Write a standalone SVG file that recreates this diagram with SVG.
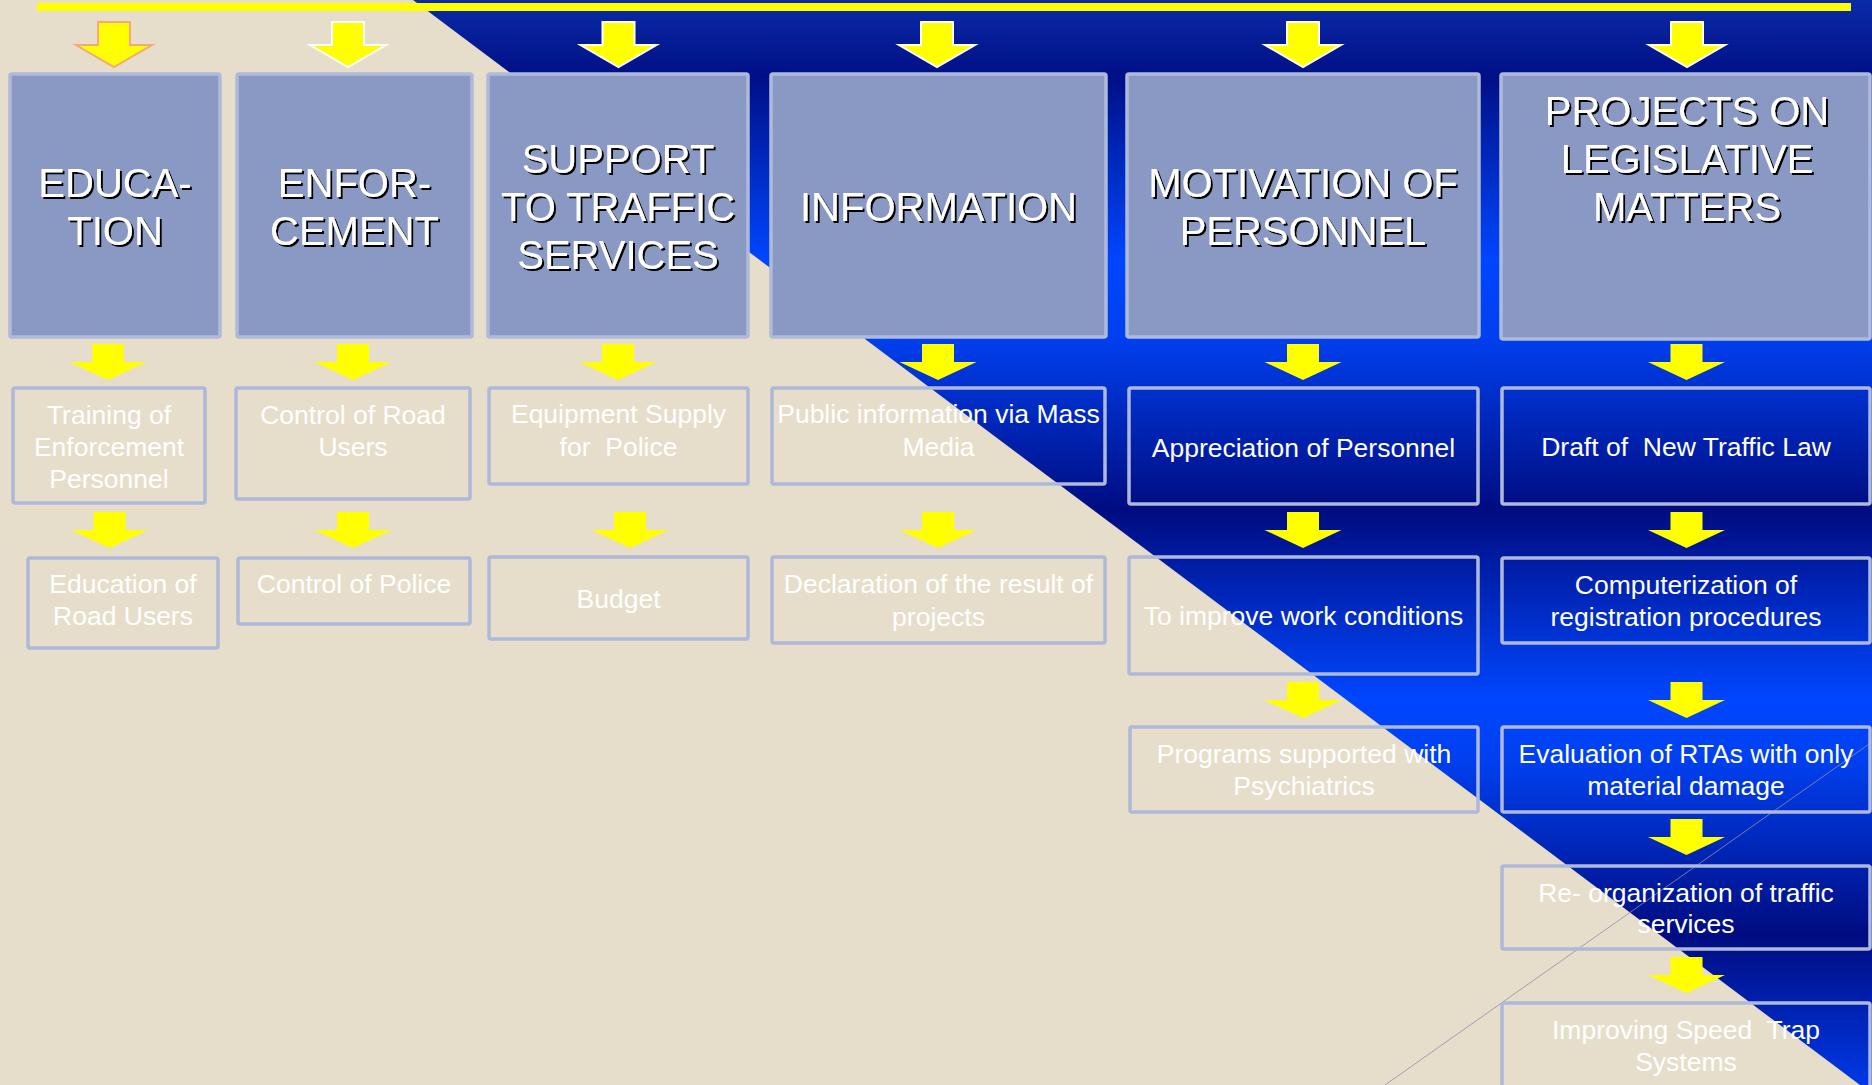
<svg xmlns="http://www.w3.org/2000/svg" xmlns:xlink="http://www.w3.org/1999/xlink" width="1872" height="1085" viewBox="0 0 1872 1085">
<defs>
<style>
.hdr{fill:#8A99C3;stroke:#AFBADA;stroke-width:3.5}
.box{fill:none;stroke:#AEB8D9;stroke-width:3.5}
.ht{font-family:"Liberation Sans",Arial,sans-serif;font-size:40px;fill:#FFFFFF;text-anchor:middle;filter:url(#sh)}
.bt{font-family:"Liberation Sans",Arial,sans-serif;font-size:26.5px;fill:#FFFFFF;text-anchor:middle}
.arr{fill:#FFFF00}
.tarr{fill:#FFFF00;stroke:#FFFFFF;stroke-width:2;stroke-linejoin:miter}
</style>
<linearGradient id="bg" gradientUnits="userSpaceOnUse" x1="0" y1="0" x2="0" y2="1085">
<stop offset="0" stop-color="#0A2BA8"/>
<stop offset="0.07" stop-color="#000F86"/>
<stop offset="0.24" stop-color="#0046FF"/>
<stop offset="0.31" stop-color="#0040F0"/>
<stop offset="0.47" stop-color="#000C80"/>
<stop offset="0.645" stop-color="#0046FF"/>
<stop offset="0.70" stop-color="#0040F0"/>
<stop offset="0.862" stop-color="#000C80"/>
<stop offset="1" stop-color="#0038E6"/>
</linearGradient>
<filter id="sh" x="-10%" y="-20%" width="120%" height="140%">
<feDropShadow dx="2" dy="2" stdDeviation="0" flood-color="#000000" flood-opacity="1"/>
</filter>
<path id="a" d="M-16,0 H16 V18 H38.5 L0,36 L-38.5,18 H-16 Z"/>
<path id="ta" d="M-16,0 H16 V23 H38 L0,45 L-38,23 H-16 Z"/>
</defs>

<g id="background">
<rect x="0" y="0" width="1872" height="1085" fill="#E6DECA"/>
<polygon points="413,0 1872,0 1872,1085 1860,1085" fill="url(#bg)"/>
<line x1="1385" y1="1085" x2="1872" y2="742" stroke="#8E90A8" stroke-width="1" stroke-opacity="0.8"/>
<rect x="37" y="3" width="1814" height="8" fill="#FFFF00"/>
</g>

<g id="connectors">
<use xlink:href="#ta" x="114" y="22" class="tarr" style="stroke:#F6A878"/>
<use xlink:href="#ta" x="348" y="22" class="tarr"/>
<use xlink:href="#ta" x="618.5" y="22" class="tarr"/>
<use xlink:href="#ta" x="937" y="22" class="tarr"/>
<use xlink:href="#ta" x="1303" y="22" class="tarr"/>
<use xlink:href="#ta" x="1687" y="22" class="tarr"/>

<use xlink:href="#a" x="108" y="344" class="arr"/>
<use xlink:href="#a" x="353" y="344" class="arr"/>
<use xlink:href="#a" x="618" y="344" class="arr"/>
<use xlink:href="#a" x="938" y="344" class="arr"/>
<use xlink:href="#a" x="1303" y="344" class="arr"/>
<use xlink:href="#a" x="1686.5" y="344" class="arr"/>

<use xlink:href="#a" x="109.5" y="512" class="arr"/>
<use xlink:href="#a" x="353" y="512" class="arr"/>
<use xlink:href="#a" x="630" y="512" class="arr"/>
<use xlink:href="#a" x="938" y="512" class="arr"/>
<use xlink:href="#a" x="1303" y="512" class="arr"/>
<use xlink:href="#a" x="1686.5" y="512" class="arr"/>

<use xlink:href="#a" x="1303" y="682" class="arr"/>
<use xlink:href="#a" x="1686.5" y="682" class="arr"/>
<use xlink:href="#a" x="1686.5" y="819" class="arr"/>
<use xlink:href="#a" x="1686.5" y="957" class="arr"/>
</g>

<g id="education">
<rect class="hdr" x="10" y="74" width="210" height="263" rx="2"/>
<text class="ht"><tspan x="115" y="197">EDUCA-</tspan><tspan x="115" y="245">TION</tspan></text>
</g>
<g id="enforcement">
<rect class="hdr" x="237" y="74" width="235" height="263" rx="2"/>
<text class="ht"><tspan x="354.5" y="197">ENFOR-</tspan><tspan x="354.5" y="245">CEMENT</tspan></text>
</g>
<g id="support">
<rect class="hdr" x="488" y="74" width="260" height="263" rx="2"/>
<text class="ht"><tspan x="618" y="173">SUPPORT</tspan><tspan x="618" y="221">TO TRAFFIC</tspan><tspan x="618" y="269">SERVICES</tspan></text>
</g>
<g id="information">
<rect class="hdr" x="771" y="74" width="335" height="263" rx="2"/>
<text class="ht" x="938.5" y="221">INFORMATION</text>
</g>
<g id="motivation">
<rect class="hdr" x="1127" y="74" width="352" height="263" rx="2"/>
<text class="ht"><tspan x="1303" y="197">MOTIVATION OF</tspan><tspan x="1303" y="245">PERSONNEL</tspan></text>
</g>
<g id="projects">
<rect class="hdr" x="1501" y="74" width="369" height="265" rx="2"/>
<text class="ht"><tspan x="1687" y="125">PROJECTS ON</tspan><tspan x="1687" y="173">LEGISLATIVE</tspan><tspan x="1687" y="221">MATTERS</tspan></text>
</g>

<g id="training">
<rect class="box" x="13" y="388" width="192" height="115" rx="2"/>
<text class="bt"><tspan x="109" y="424">Training of</tspan><tspan x="109" y="456">Enforcement</tspan><tspan x="109" y="488">Personnel</tspan></text>
</g>
<g id="control-road">
<rect class="box" x="236" y="388" width="234" height="111" rx="2"/>
<text class="bt"><tspan x="353" y="424">Control of Road</tspan><tspan x="353" y="456">Users</tspan></text>
</g>
<g id="equipment">
<rect class="box" x="489" y="388" width="259" height="96" rx="2"/>
<text class="bt" xml:space="preserve"><tspan x="618.5" y="423">Equipment Supply</tspan><tspan x="618.5" y="456">for  Police</tspan></text>
</g>
<g id="public">
<rect class="box" x="772" y="388" width="333" height="96" rx="2"/>
<text class="bt"><tspan x="938.5" y="423">Public information via Mass</tspan><tspan x="938.5" y="456">Media</tspan></text>
</g>
<g id="appreciation">
<rect class="box" x="1129" y="388" width="349" height="116" rx="2"/>
<text class="bt" x="1303.5" y="457">Appreciation of Personnel</text>
</g>
<g id="draft">
<rect class="box" x="1502" y="388" width="368" height="116" rx="2"/>
<text class="bt" x="1686" y="456" xml:space="preserve">Draft of  New Traffic Law</text>
</g>

<g id="education-road">
<rect class="box" x="28" y="558" width="190" height="90" rx="2"/>
<text class="bt"><tspan x="123" y="593">Education of</tspan><tspan x="123" y="625">Road Users</tspan></text>
</g>
<g id="control-police">
<rect class="box" x="238" y="558" width="232" height="66" rx="2"/>
<text class="bt" x="354" y="593">Control of Police</text>
</g>
<g id="budget">
<rect class="box" x="489" y="557" width="259" height="82" rx="2"/>
<text class="bt" x="618.5" y="608">Budget</text>
</g>
<g id="declaration">
<rect class="box" x="772" y="557" width="333" height="86" rx="2"/>
<text class="bt"><tspan x="938.5" y="593">Declaration of the result of</tspan><tspan x="938.5" y="626">projects</tspan></text>
</g>
<g id="improve">
<rect class="box" x="1129" y="557" width="349" height="117" rx="2"/>
<text class="bt" x="1303.5" y="625">To improve work conditions</text>
</g>
<g id="computerization">
<rect class="box" x="1502" y="558" width="368" height="85" rx="2"/>
<text class="bt"><tspan x="1686" y="594">Computerization of</tspan><tspan x="1686" y="626">registration procedures</tspan></text>
</g>

<g id="programs">
<rect class="box" x="1130" y="727" width="348" height="85" rx="2"/>
<text class="bt"><tspan x="1304" y="763">Programs supported with</tspan><tspan x="1304" y="795">Psychiatrics</tspan></text>
</g>
<g id="evaluation">
<rect class="box" x="1502" y="727" width="368" height="85" rx="2"/>
<text class="bt"><tspan x="1686" y="763">Evaluation of RTAs with only</tspan><tspan x="1686" y="795">material damage</tspan></text>
</g>
<g id="reorganization">
<rect class="box" x="1502" y="866" width="368" height="83" rx="2"/>
<text class="bt"><tspan x="1686" y="902">Re- organization of traffic</tspan><tspan x="1686" y="933">services</tspan></text>
</g>
<g id="speed-trap">
<rect class="box" x="1502" y="1003" width="368" height="100" rx="2"/>
<text class="bt" xml:space="preserve"><tspan x="1686" y="1039">Improving Speed  Trap</tspan><tspan x="1686" y="1071">Systems</tspan></text>
</g>
</svg>
